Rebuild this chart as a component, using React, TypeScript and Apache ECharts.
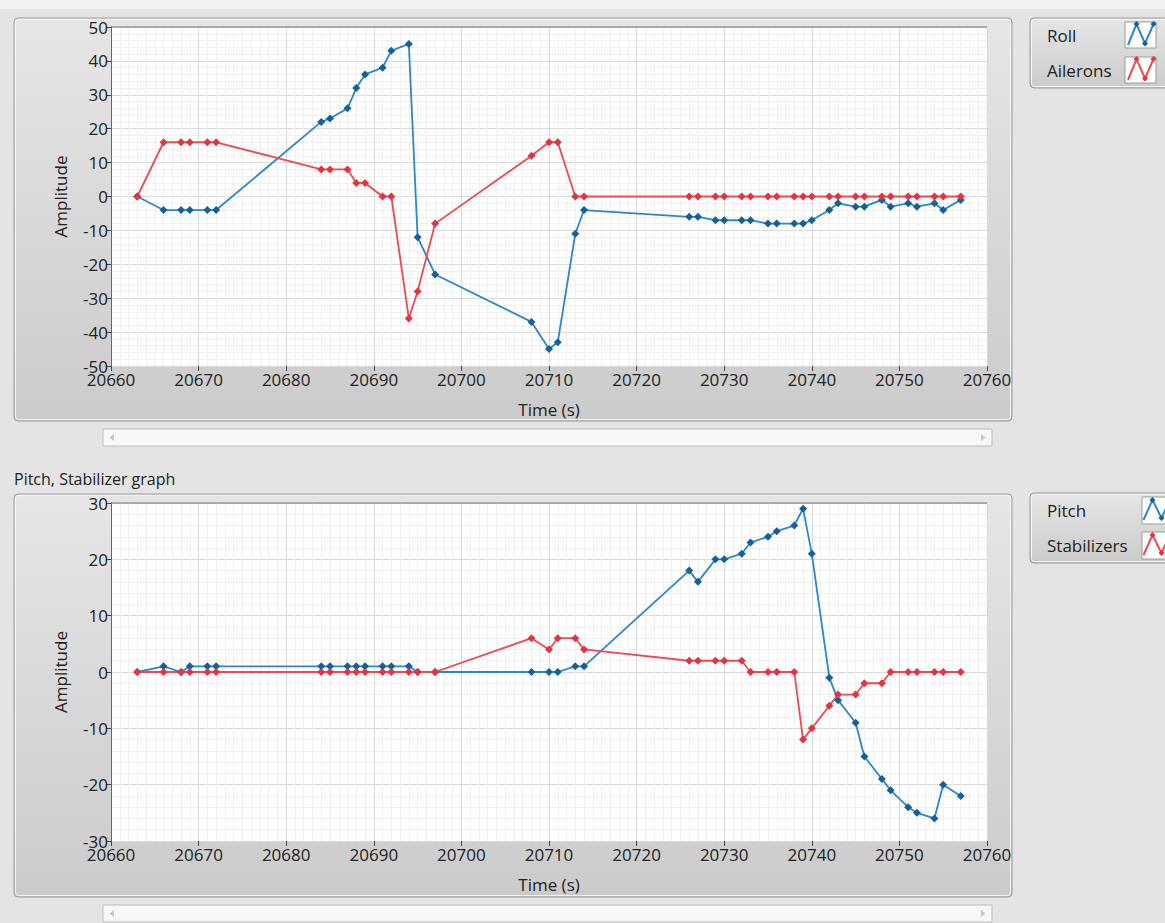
import { useEffect, useRef } from "react";
import * as echarts from "echarts";

const time = [20663, 20666, 20668, 20669, 20671, 20672, 20684, 20685, 20687, 20688, 20689, 20691, 20692, 20694, 20695, 20697, 20708, 20710, 20711, 20713, 20714, 20726, 20727, 20729, 20730, 20732, 20733, 20735, 20736, 20738, 20739, 20740, 20742, 20743, 20745, 20746, 20748, 20749, 20751, 20752, 20754, 20755, 20757];
const roll = [0, -4, -4, -4, -4, -4, 22, 23, 26, 32, 36, 38, 43, 45, -12, -23, -37, -45, -43, -11, -4, -6, -6, -7, -7, -7, -7, -8, -8, -8, -8, -7, -4, -2, -3, -3, -1, -3, -2, -3, -2, -4, -1];
const ailerons = [0, 16, 16, 16, 16, 16, 8, 8, 8, 4, 4, 0, 0, -36, -28, -8, 12, 16, 16, 0, 0, 0, 0, 0, 0, 0, 0, 0, 0, 0, 0, 0, 0, 0, 0, 0, 0, 0, 0, 0, 0, 0, 0];
const pitch = [0, 1, 0, 1, 1, 1, 1, 1, 1, 1, 1, 1, 1, 1, 0, 0, 0, 0, 0, 1, 1, 18, 16, 20, 20, 21, 23, 24, 25, 26, 29, 21, -1, -5, -9, -15, -19, -21, -24, -25, -26, -20, -22];
const stabilizers = [0, 0, 0, 0, 0, 0, 0, 0, 0, 0, 0, 0, 0, 0, 0, 0, 6, 4, 6, 6, 4, 2, 2, 2, 2, 2, 0, 0, 0, 0, -12, -10, -6, -4, -4, -2, -2, 0, 0, 0, 0, 0, 0];

const xRange = { min: 20660, max: 20760, interval: 10 };
const topYRange = { min: -50, max: 50, interval: 10 };
const bottomYRange = { min: -30, max: 30, interval: 10 };

const topLegend = ["Roll", "Ailerons"];
const bottomLegend = ["Pitch", "Stabilizers"];
const bottomTitle = "Pitch, Stabilizer graph";

const FONT = "'Open Sans', 'Noto Sans', sans-serif";
const FS = 17;
const BLUE_LINE = "#2e86c9";
const BLUE_MARK = "#14609c";
const RED_LINE = "#ee4a55";
const RED_MARK = "#e5333f";

function panel(x: number, y: number, w: number, h: number) {
  return [
    {
      type: "rect",
      z: -10,
      shape: { x, y, width: w, height: h, r: 4 },
      style: {
        fill: new echarts.graphic.LinearGradient(0, 0, 0, 1, [
          { offset: 0, color: "#e6e6e6" },
          { offset: 1, color: "#cbcbcb" },
        ]),
        stroke: "#9a9a9a",
        lineWidth: 1,
      },
    },
    {
      type: "rect",
      z: -9,
      shape: { x: x + 1.5, y: y + 1.5, width: w - 3, height: h - 3, r: 3 },
      style: { fill: "none", stroke: "#f4f4f4", lineWidth: 1 },
    },
  ];
}

function scrollbar(x: number, y: number, w: number, h: number) {
  const cy = y + h / 2;
  return [
    {
      type: "rect",
      z: -8,
      shape: { x, y, width: w, height: h },
      style: { fill: "#f8f8f8", stroke: "#bcbcbc", lineWidth: 1 },
    },
    {
      type: "polygon",
      z: -7,
      shape: { points: [[x + 11, cy - 3.5], [x + 11, cy + 3.5], [x + 6.5, cy]] },
      style: { fill: "#c6c6c6" },
    },
    {
      type: "polygon",
      z: -7,
      shape: { points: [[x + w - 11, cy - 3.5], [x + w - 11, cy + 3.5], [x + w - 6.5, cy]] },
      style: { fill: "#c6c6c6" },
    },
  ];
}

function diamond(cx: number, cy: number, r: number, color: string) {
  return {
    type: "polygon",
    z: -5,
    shape: { points: [[cx, cy - r], [cx + r, cy], [cx, cy + r], [cx - r, cy]] },
    style: { fill: color },
  };
}

function icon(x: number, y: number, w: number, h: number, pts: number[][], line: string, mark: string) {
  return [
    {
      type: "rect",
      z: -6,
      shape: { x, y, width: w, height: h },
      style: { fill: "#ffffff", stroke: "#9a9a9a", lineWidth: 1 },
    },
    {
      type: "polyline",
      z: -5,
      shape: { points: pts },
      style: { stroke: line, lineWidth: 2, fill: "none" },
    },
    ...pts.slice(1).map((p) => diamond(p[0], p[1], 3, mark)),
  ];
}

function legendText(x: number, y: number, text: string) {
  return {
    type: "text",
    z: -5,
    x,
    y,
    style: { text, fontSize: FS, fontFamily: FONT, fill: "#222", verticalAlign: "middle", align: "left" },
  };
}

function axesFor(gridIndex: number, yr: { min: number; max: number; interval: number }) {
  const xAxis = {
    type: "value",
    gridIndex,
    min: xRange.min,
    max: xRange.max,
    interval: xRange.interval,
    name: "Time (s)",
    nameLocation: "middle",
    nameGap: 35,
    nameTextStyle: { fontSize: FS, fontFamily: FONT, color: "#222" },
    axisLine: { show: false, onZero: false },
    axisTick: { show: true, length: 5, lineStyle: { color: "#444" } },
    axisLabel: {
      fontSize: FS,
      fontFamily: FONT,
      color: "#222",
      margin: 7,
      lineHeight: 13,
      formatter: (v: number) => String(v),
    },
    splitLine: { show: true, lineStyle: { color: "#d9d9d9", width: 1 } },
    minorTick: { show: false, splitNumber: 10 },
    minorSplitLine: { show: true, lineStyle: { color: "#f0f0f0", width: 1 } },
  };
  const yAxis = {
    type: "value",
    gridIndex,
    min: yr.min,
    max: yr.max,
    interval: yr.interval,
    name: "Amplitude",
    nameLocation: "middle",
    nameRotate: 90,
    nameGap: 42,
    nameTextStyle: { fontSize: FS, fontFamily: FONT, color: "#222" },
    axisLine: { show: true, onZero: false, lineStyle: { color: "#666", width: 1 } },
    axisTick: { show: true, length: 5, lineStyle: { color: "#444" } },
    axisLabel: { fontSize: FS, fontFamily: FONT, color: "#222", margin: 3, lineHeight: 12 },
    splitLine: { show: true, lineStyle: { color: "#d9d9d9", width: 1 } },
    minorTick: { show: false, splitNumber: 5 },
    minorSplitLine: { show: true, lineStyle: { color: "#f0f0f0", width: 1 } },
  };
  return { xAxis, yAxis };
}

function lineSeries(name: string, idx: number, values: number[], line: string, mark: string) {
  return {
    name,
    type: "line",
    xAxisIndex: idx,
    yAxisIndex: idx,
    data: time.map((t, i) => [t, values[i]]),
    symbol: "diamond",
    symbolSize: 8,
    showAllSymbol: true,
    lineStyle: { color: line, width: 1.8 },
    itemStyle: { color: mark },
  };
}

export default function App() {
  const ref = useRef<HTMLDivElement>(null);
  useEffect(() => {
    document.body.style.margin = "0";
    if (!ref.current) return;
    const chart = echarts.init(ref.current, undefined, { renderer: "svg" });
    const a0 = axesFor(0, topYRange);
    const a1 = axesFor(1, bottomYRange);
    const grids = [
      { left: 111, top: 27, width: 876, height: 339 },
      { left: 111, top: 503, width: 876, height: 338 },
    ];
    chart.setOption({
      animation: false,
      backgroundColor: "#e4e4e4",
      textStyle: { fontFamily: FONT },
      grid: grids.map((g) => ({ ...g, show: true, backgroundColor: "#ffffff", borderWidth: 0, containLabel: false })),
      xAxis: [a0.xAxis, a1.xAxis],
      yAxis: [a0.yAxis, a1.yAxis],
      series: [
        lineSeries(topLegend[0], 0, roll, BLUE_LINE, BLUE_MARK),
        lineSeries(topLegend[1], 0, ailerons, RED_LINE, RED_MARK),
        lineSeries(bottomLegend[0], 1, pitch, BLUE_LINE, BLUE_MARK),
        lineSeries(bottomLegend[1], 1, stabilizers, RED_LINE, RED_MARK),
      ],
      graphic: [
        { type: "rect", z: -11, shape: { x: 0, y: 0, width: 1165, height: 9 }, style: { fill: "#f1f1f1" } },
        ...panel(14, 18, 998, 403),
        ...scrollbar(103, 429, 889, 17),
        ...panel(14, 494, 998, 403),
        ...scrollbar(103, 905, 889, 17),
        {
          type: "text",
          x: 14,
          y: 479,
          style: { text: bottomTitle, fontSize: FS - 1, fontFamily: FONT, fill: "#222", verticalAlign: "middle" },
        },
        { type: "line", z: 5, shape: { x1: 111, y1: 27, x2: 987, y2: 27 }, style: { stroke: "#777", lineWidth: 1 } },
        { type: "line", z: 5, shape: { x1: 111, y1: 503, x2: 987, y2: 503 }, style: { stroke: "#777", lineWidth: 1 } },
        ...panel(1030, 18, 160, 70),
        legendText(1047, 35, topLegend[0]),
        legendText(1047, 70, topLegend[1]),
        ...icon(1125, 22, 31, 26, [[1128, 45], [1136.5, 24], [1145, 43.5], [1153.5, 24]], BLUE_LINE, BLUE_MARK),
        ...icon(1125, 57, 31, 26, [[1128, 80], [1136.5, 59], [1145, 78.5], [1153.5, 59]], RED_LINE, RED_MARK),
        ...panel(1030, 493, 160, 70),
        legendText(1047, 510, bottomLegend[0]),
        legendText(1047, 545, bottomLegend[1]),
        ...icon(1142, 497, 30, 27, [[1143.5, 520], [1152.5, 500], [1161.5, 518], [1170, 500]], BLUE_LINE, BLUE_MARK),
        ...icon(1142, 532, 30, 27, [[1143.5, 555], [1152.5, 535], [1161.5, 553], [1170, 535]], RED_LINE, RED_MARK),
      ],
    });
    return () => chart.dispose();
  }, []);
  return <div ref={ref} style={{ width: 1165, height: 923, position: "absolute", left: 0, top: 0 }} />;
}
